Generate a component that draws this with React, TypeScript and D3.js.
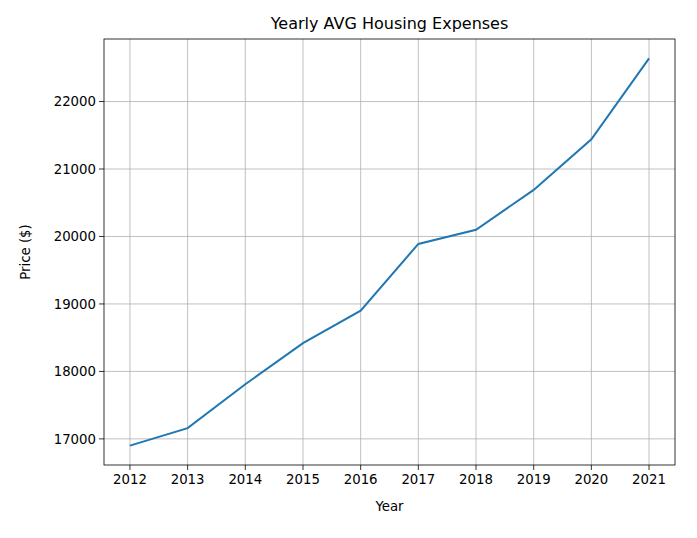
import React from 'react';
import * as d3 from 'd3';

const years = [2012, 2013, 2014, 2015, 2016, 2017, 2018, 2019, 2020, 2021];
const prices = [16900, 17160, 17810, 18420, 18900, 19890, 20100, 20690, 21440, 22640];
const yTicks = [17000, 18000, 19000, 20000, 21000, 22000];

const W = 697;
const H = 538;
const m = { left: 104, right: 675, top: 39, bottom: 465 };
const font = 'DejaVu Sans, sans-serif';

export default function App() {
  const pad = (d3.max(prices)! - d3.min(prices)!) * 0.05;
  const x = d3.scaleLinear().domain([2012 - 0.45, 2021 + 0.45]).range([m.left, m.right]);
  const y = d3.scaleLinear()
    .domain([d3.min(prices)! - pad, d3.max(prices)! + pad])
    .range([m.bottom, m.top]);
  const line = d3.line<number>().x((_, i) => x(years[i])).y(d => y(d));

  return (
    <svg width={W} height={H} style={{ position: 'absolute', left: 0, top: 0, background: '#fff' }} fontFamily={font}>
      {years.map(yr => (
        <g key={yr}>
          <line x1={x(yr)} x2={x(yr)} y1={m.top} y2={m.bottom} stroke="#b0b0b0" strokeWidth={0.8} />
          <line x1={x(yr)} x2={x(yr)} y1={m.bottom} y2={m.bottom + 5} stroke="#000" strokeWidth={0.8} />
          <text x={x(yr)} y={m.bottom + 19} textAnchor="middle" fontSize={13.3} fill="#000">{yr}</text>
        </g>
      ))}
      {yTicks.map(t => (
        <g key={t}>
          <line x1={m.left} x2={m.right} y1={y(t)} y2={y(t)} stroke="#b0b0b0" strokeWidth={0.8} />
          <line x1={m.left - 5} x2={m.left} y1={y(t)} y2={y(t)} stroke="#000" strokeWidth={0.8} />
          <text x={m.left - 8} y={y(t)} dy="0.35em" textAnchor="end" fontSize={13.3} fill="#000">{t}</text>
        </g>
      ))}
      <path d={line(prices)!} fill="none" stroke="#1f77b4" strokeWidth={2} />
      <rect x={m.left} y={m.top} width={m.right - m.left} height={m.bottom - m.top} fill="none" stroke="#000" strokeWidth={0.8} />
      <text x={(m.left + m.right) / 2} y={m.top - 10} textAnchor="middle" fontSize={16}>Yearly AVG Housing Expenses</text>
      <text x={(m.left + m.right) / 2} y={m.bottom + 46} textAnchor="middle" fontSize={13.3}>Year</text>
      <text transform={`translate(30,${(m.top + m.bottom) / 2}) rotate(-90)`} textAnchor="middle" fontSize={13.3}>Price ($)</text>
    </svg>
  );
}
